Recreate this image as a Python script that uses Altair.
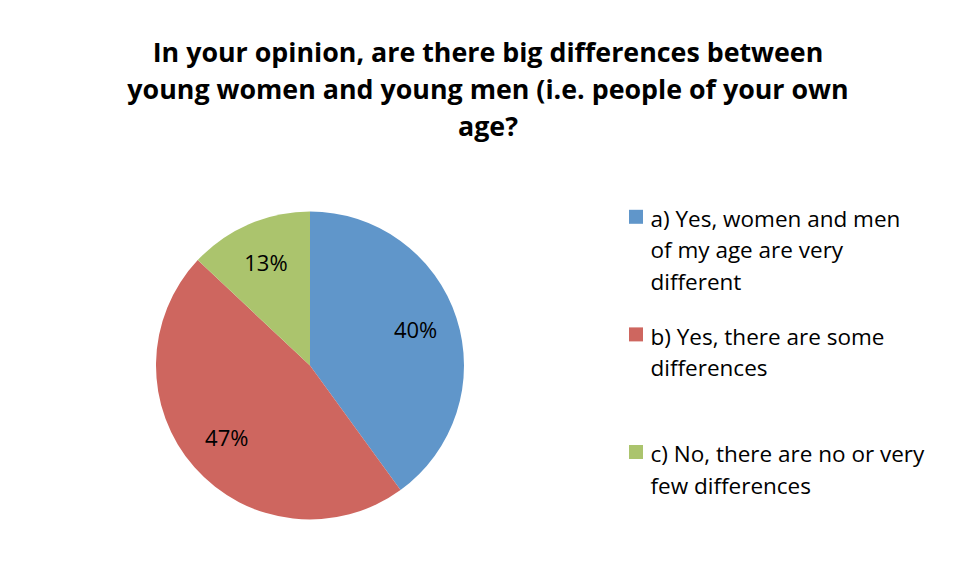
import altair as alt
import pandas as pd

categories = [
    "a) Yes, women and men of my age are very different",
    "b) Yes, there are some differences",
    "c) No, there are no or very few differences",
]
legend_lines = [
    ["a) Yes, women and men", "of my age are very", "different"],
    ["b) Yes, there are some", "differences"],
    ["c) No, there are no or very", "few differences"],
]
shares = [40, 47, 13]
colors = ["#6096CA", "#CE665F", "#ABC46D"]
title_lines = [
    "In your opinion, are there big differences between",
    "young women and young men (i.e. people of your own",
    "age?",
]

df = pd.DataFrame({
    "cat": categories,
    "share": shares,
    "order": list(range(len(categories))),
    "label": ["|".join(l) for l in legend_lines],
})

FONT = "Open Sans"
color = alt.Color("cat:N", scale=alt.Scale(domain=categories, range=colors), legend=None)

base = alt.Chart(df).encode(
    theta=alt.Theta("share:Q", stack=True),
    order=alt.Order("order:Q"),
)
arcs = base.mark_arc(outerRadius=154).encode(color=color)
pct = base.mark_text(radius=111, fontSize=22, font=FONT).encode(
    text=alt.Text("pct:N"), color=alt.value("black")
).transform_calculate(pct="datum.share + '%'")
pie = alt.layer(arcs, pct).properties(width=604, height=330)

leg_base = alt.Chart(df).encode(
    y=alt.Y("cat:N", sort=categories, scale=alt.Scale(type="point", padding=0.1386), axis=None)
)
squares = leg_base.mark_square(size=196, opacity=1).encode(x=alt.value(7), color=color)
texts = leg_base.mark_text(
    align="left", baseline="alphabetic", dy=10.2, fontSize=22.5, lineHeight=31.5, font=FONT, color="black"
).encode(x=alt.value(21.5), text=alt.Text("lines:N")).transform_calculate(lines="split(datum.label, '|')")
legend = alt.layer(squares, texts).properties(width=300, height=267.8)

chart = alt.hconcat(pie, legend, spacing=17).properties(
    title=alt.Title(
        title_lines, fontSize=26.8, font=FONT, fontWeight="bold", lineHeight=37.2,
        anchor="middle", dx=19.5, offset=58.3, color="black",
    ),
    padding={"left": 0, "top": 32.5, "right": 0, "bottom": 0},
).configure_view(stroke=None)

chart.save("out.html", embed_options={"renderer": "svg", "actions": False})
